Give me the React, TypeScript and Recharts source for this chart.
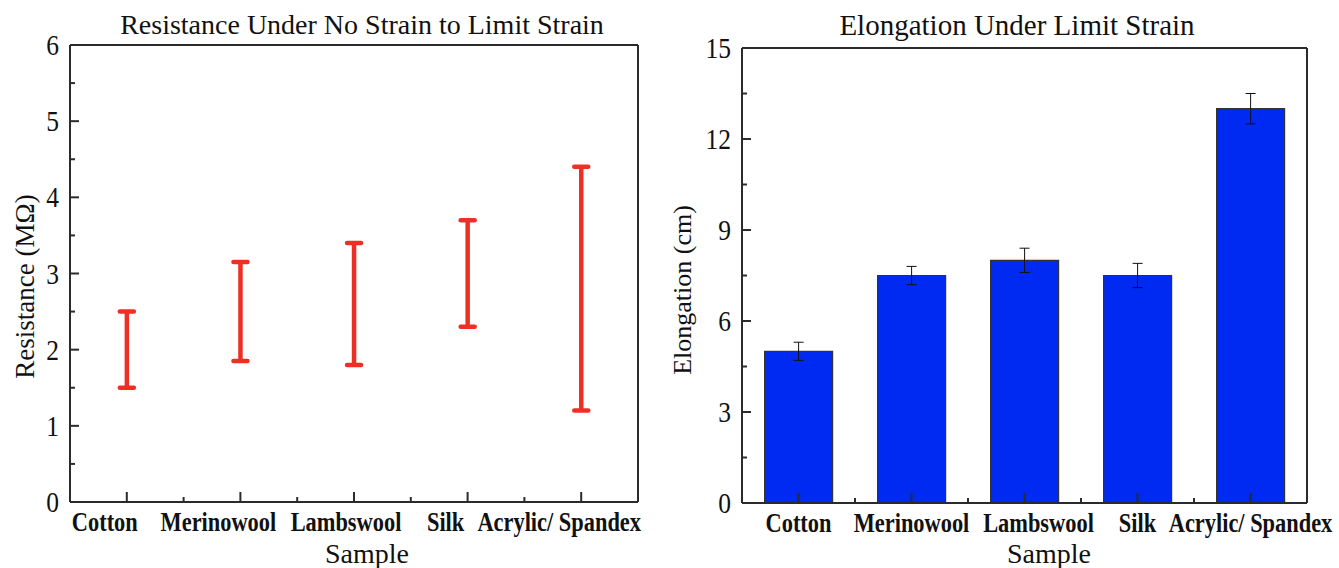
import React from "react";
import { Bar, BarChart, ErrorBar, XAxis, YAxis } from "recharts";

const samples = ["Cotton", "Merinowool", "Lambswool", "Silk", "Acrylic/ Spandex"];

// resistance range, no strain -> limit strain (MΩ)
const resistanceLow = [1.5, 1.85, 1.8, 2.3, 1.2];
const resistanceHigh = [2.5, 3.15, 3.4, 3.7, 4.4];
const resistanceTicks = [0, 0.5, 1, 1.5, 2, 2.5, 3, 3.5, 4, 4.5, 5, 5.5, 6];

// elongation under limit strain (cm)
const elongation = [5.0, 7.5, 8.0, 7.5, 13.0];
const elongationErr = [0.3, 0.3, 0.4, 0.4, 0.5];
const elongationTicks = [0, 1.5, 3, 4.5, 6, 7.5, 9, 10.5, 12, 13.5, 15];

const FONT = "'Liberation Serif', 'Times New Roman', serif";
const AXIS = "#2b2b2b";
const RED = "#ee3024";
const BLUE = "#0029f2";

const H = 568;
const LEFT_W = 660;
const LEFT_M = { top: 44, right: 21, bottom: 65, left: 69 };
const RIGHT_W = 679;
const RIGHT_M = { top: 47, right: 31, bottom: 64, left: 81 };

const resistanceRows = samples.map((name, i) => ({
  name,
  range: [resistanceLow[i], resistanceHigh[i]],
}));
const elongationRows = samples.map((name, i) => ({
  name,
  value: elongation[i],
  err: elongationErr[i],
}));

function YTick(props: any) {
  const { x, y, payload, step } = props;
  const v = payload.value;
  const major = Math.abs(v / step - Math.round(v / step)) < 1e-6;
  return (
    <g>
      <line x1={x} x2={x + (major ? 9 : 5)} y1={y} y2={y} stroke={AXIS} strokeWidth={2} />
      {major && (
        <text
          transform={`translate(${x - 11},${y + 10}) scale(0.85,1)`}
          textAnchor="end"
          fontSize={30}
          fontFamily={FONT}
          fill="#111"
        >
          {v}
        </text>
      )}
    </g>
  );
}

function XTick(props: any) {
  const { x, y, payload, index, bw, dx } = props;
  // the original nudges this one label a little to the right
  const nudge = payload.value === "Lambswool" ? 14 : 0;
  return (
    <g>
      <line x1={x} x2={x} y1={y} y2={y - 10} stroke={AXIS} strokeWidth={2} />
      {index < samples.length - 1 && (
        <line x1={x + bw / 2} x2={x + bw / 2} y1={y} y2={y - 5} stroke={AXIS} strokeWidth={2} />
      )}
      <text
        transform={`translate(${x + dx + nudge},${y + 29}) scale(0.8,1)`}
        textAnchor="middle"
        fontSize={28}
        fontWeight="bold"
        fontFamily={FONT}
        fill="#111"
      >
        {payload.value}
      </text>
    </g>
  );
}

function IBeam(props: any) {
  const { x, y, width, height } = props;
  const cx = x + width / 2;
  const top = Math.min(y, y + height);
  const bottom = Math.max(y, y + height);
  return (
    <g stroke={RED} strokeWidth={4.5}>
      <line x1={cx} x2={cx} y1={top} y2={bottom} />
      <line x1={cx - 7} x2={cx + 7} y1={top} y2={top} strokeLinecap="round" />
      <line x1={cx - 7} x2={cx + 7} y1={bottom} y2={bottom} strokeLinecap="round" />
    </g>
  );
}

const textStyle: React.CSSProperties = {
  position: "absolute",
  fontFamily: FONT,
  color: "#111",
  whiteSpace: "nowrap",
  textAlign: "center",
};

function Caption({ text, cx, top, size, rotate }: any) {
  const w = 600;
  return (
    <div
      style={{
        ...textStyle,
        left: cx - w / 2,
        top,
        width: w,
        fontSize: size,
        lineHeight: `${size}px`,
        transform: rotate ? "rotate(-90deg)" : undefined,
      }}
    >
      {text}
    </div>
  );
}

export default function App() {
  const leftBw = (LEFT_W - LEFT_M.left - LEFT_M.right - 2) / samples.length;
  const rightBw = (RIGHT_W - RIGHT_M.left - RIGHT_M.right - 2) / samples.length;
  const frame = { stroke: AXIS, strokeWidth: 2 };

  return (
    <div style={{ position: "absolute", left: 0, top: 0, width: 1339, height: H, background: "#fff" }}>
      <div style={{ position: "absolute", left: 0, top: 0 }}>
        <BarChart width={LEFT_W} height={H} data={resistanceRows} margin={LEFT_M}>
          <XAxis
            dataKey="name"
            height={1}
            interval={0}
            tickSize={0}
            tickMargin={0}
            tickLine={false}
            axisLine={frame}
            tick={<XTick bw={leftBw} dx={-22} />}
          />
          <XAxis xAxisId="top" dataKey="name" orientation="top" height={1} tick={false} tickLine={false} axisLine={frame} />
          <YAxis
            width={1}
            domain={[0, 6]}
            ticks={resistanceTicks}
            interval={0}
            tickSize={0}
            tickMargin={0}
            tickLine={false}
            axisLine={frame}
            tick={<YTick step={1} />}
          />
          <YAxis yAxisId="right" orientation="right" width={1} domain={[0, 6]} tick={false} tickLine={false} axisLine={frame} />
          <Bar dataKey="range" shape={<IBeam />} isAnimationActive={false} />
        </BarChart>
      </div>

      <div style={{ position: "absolute", left: LEFT_W, top: 0 }}>
        <BarChart width={RIGHT_W} height={H} data={elongationRows} margin={RIGHT_M} barCategoryGap="20%">
          <XAxis
            dataKey="name"
            height={1}
            interval={0}
            tickSize={0}
            tickMargin={0}
            tickLine={false}
            axisLine={frame}
            tick={<XTick bw={rightBw} dx={0} />}
          />
          <XAxis xAxisId="top" dataKey="name" orientation="top" height={1} tick={false} tickLine={false} axisLine={frame} />
          <YAxis
            width={1}
            domain={[0, 15]}
            ticks={elongationTicks}
            interval={0}
            tickSize={0}
            tickMargin={0}
            tickLine={false}
            axisLine={frame}
            tick={<YTick step={3} />}
          />
          <YAxis yAxisId="right" orientation="right" width={1} domain={[0, 15]} tick={false} tickLine={false} axisLine={frame} />
          <Bar dataKey="value" fill={BLUE} stroke="#333" strokeWidth={1.2} isAnimationActive={false}>
            <ErrorBar dataKey="err" direction="y" width={5} stroke="#111" strokeWidth={1} />
          </Bar>
        </BarChart>
      </div>

      <Caption text="Resistance Under No Strain to Limit Strain" cx={362} top={11} size={28} />
      <Caption text="Elongation Under Limit Strain" cx={1017} top={11} size={29} />
      <Caption text="Sample" cx={367} top={540} size={28} />
      <Caption text="Sample" cx={1049} top={540} size={28} />
      <Caption text="Resistance (MΩ)" cx={25} top={273} size={27} rotate />
      <Caption text="Elongation (cm)" cx={683} top={277} size={26} rotate />
    </div>
  );
}
